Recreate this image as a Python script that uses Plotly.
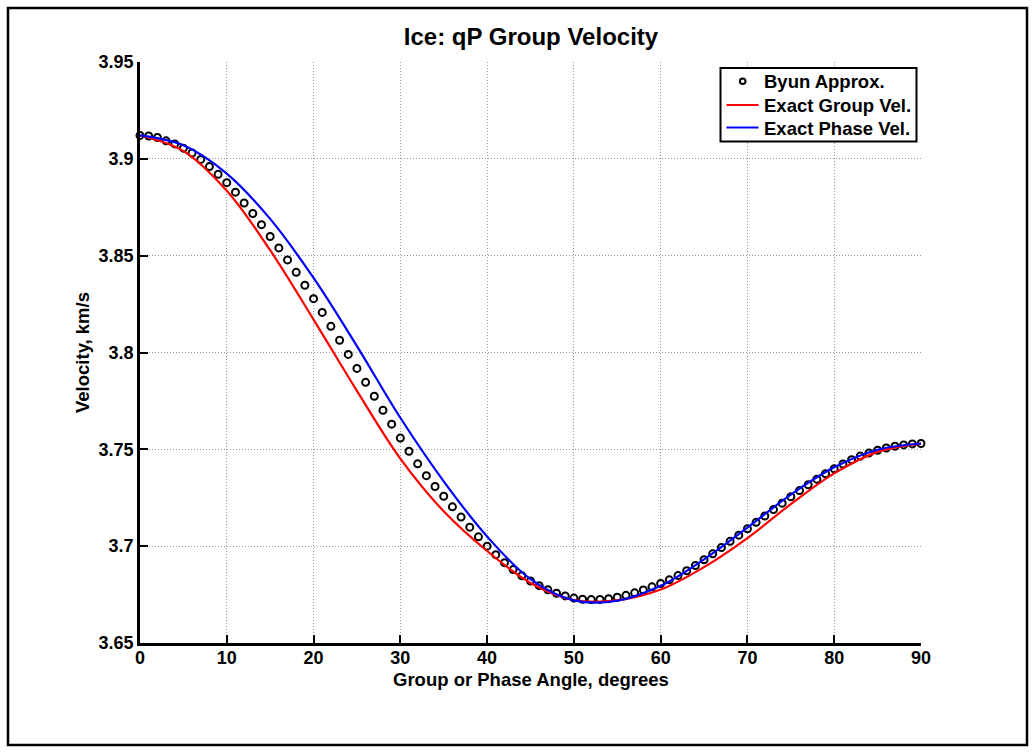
import plotly.graph_objects as go

# ---- data ----
angle_line = [0, 5, 10, 15, 20, 25, 30, 35, 40, 45, 50, 55, 60, 65, 70, 75, 80, 85, 90]
group_vel = [3.9121, 3.9040, 3.8835, 3.8528, 3.8170, 3.7802, 3.7452, 3.7180, 3.6975, 3.6810,
             3.6722, 3.6720, 3.6776, 3.6892, 3.7042, 3.7217, 3.7376, 3.7487, 3.7530]
phase_vel = [3.9121, 3.9070, 3.8924, 3.8690, 3.8385, 3.8033, 3.7663, 3.7335, 3.7050, 3.6830,
             3.6720, 3.6718, 3.6795, 3.6932, 3.7096, 3.7266, 3.7407, 3.7498, 3.7530]

angle_byun = list(range(0, 91))
byun_vel = [3.9121, 3.9118, 3.9110, 3.9093, 3.9077, 3.9055, 3.9030, 3.8997, 3.8960, 3.8920,
            3.8877, 3.8828, 3.8772, 3.8718, 3.8660, 3.8599, 3.8540, 3.8478, 3.8414, 3.8347,
            3.8278, 3.8207, 3.8135, 3.8063, 3.7990, 3.7918, 3.7846, 3.7774, 3.7702, 3.7630,
            3.7558, 3.7490, 3.7425, 3.7364, 3.7308, 3.7258, 3.7203, 3.7150, 3.7098, 3.7048,
            3.7000, 3.6956, 3.6915, 3.6879, 3.6847, 3.6820, 3.6796, 3.6775, 3.6757, 3.6743,
            3.6732, 3.6726, 3.6724, 3.6725, 3.6729, 3.6736, 3.6746, 3.6759, 3.6774, 3.6790,
            3.6807, 3.6826, 3.6848, 3.6873, 3.6900, 3.6930, 3.6961, 3.6993, 3.7025, 3.7057,
            3.7090, 3.7123, 3.7156, 3.7189, 3.7222, 3.7255, 3.7287, 3.7317, 3.7346, 3.7374,
            3.7400, 3.7424, 3.7446, 3.7465, 3.7481, 3.7495, 3.7507, 3.7516, 3.7523, 3.7528,
            3.7530]

x_ticks = [0, 10, 20, 30, 40, 50, 60, 70, 80, 90]
y_ticks = [3.65, 3.70, 3.75, 3.80, 3.85, 3.90, 3.95]
y_tick_text = ["3.65", "3.7", "3.75", "3.8", "3.85", "3.9", "3.95"]

title_text = "Ice: qP Group Velocity"
x_title = "Group or Phase Angle, degrees"
y_title = "Velocity, km/s"
names = ["Byun Approx.", "Exact Group Vel.", "Exact Phase Vel."]
colors = ["black", "#ff0000", "#0000ff"]

FONT = "Liberation Sans, Arial, sans-serif"
TICK_FS = 18
LAB_FS = 18.5

fig = go.Figure()
fig.add_trace(go.Scatter(
    x=angle_byun, y=byun_vel, mode="markers", name=names[0],
    marker=dict(symbol="circle-open", size=7, color=colors[0], line=dict(width=2, color=colors[0])),
    cliponaxis=False,
))
fig.add_trace(go.Scatter(
    x=angle_line, y=group_vel, mode="lines", name=names[1],
    line=dict(color=colors[1], width=2.2, shape="spline", smoothing=1.0),
    cliponaxis=False,
))
fig.add_trace(go.Scatter(
    x=angle_line, y=phase_vel, mode="lines", name=names[2],
    line=dict(color=colors[2], width=2.2, shape="spline", smoothing=1.0),
    cliponaxis=False,
))

W, H = 1035, 752
L, R, T, B = 140, W - 921, 62, H - 643
pw, ph = W - L - R, H - T - B

def px(xp):
    return (xp - L) / pw

def py(yp):
    return (H - B - yp) / ph

shapes = [dict(
    type="rect", xref="paper", yref="paper",
    x0=px(8), x1=px(1027), y0=py(745), y1=py(8),
    line=dict(color="black", width=2.5), fillcolor="rgba(0,0,0,0)", layer="below",
)]

# manual legend (MATLAB-like)
leg_x0, leg_x1, leg_y0, leg_y1 = 720.5, 916.5, 68, 141.5
row_y = [81.3, 105.0, 127.6]
shapes.append(dict(type="rect", xref="paper", yref="paper",
                   x0=px(leg_x0), x1=px(leg_x1), y0=py(leg_y1), y1=py(leg_y0),
                   line=dict(color="black", width=2), fillcolor="white", layer="above"))
shapes.append(dict(type="circle", xref="paper", yref="paper",
                   x0=px(742.7 - 2.8), x1=px(742.7 + 2.8), y0=py(row_y[0] + 2.8), y1=py(row_y[0] - 2.8),
                   line=dict(color=colors[0], width=2), fillcolor="rgba(0,0,0,0)", layer="above"))
for i in (1, 2):
    shapes.append(dict(type="line", xref="paper", yref="paper",
                       x0=px(726.5), x1=px(758.5), y0=py(row_y[i]), y1=py(row_y[i]),
                       line=dict(color=colors[i], width=2), layer="above"))

annotations = []
for i, nm in enumerate(names):
    annotations.append(dict(
        text=nm, xref="paper", yref="paper", x=px(762), y=py(row_y[i] + 0.5),
        xanchor="left", yanchor="middle", showarrow=False,
        font=dict(family=FONT, size=LAB_FS, color="black", weight="bold"),
    ))
annotations.append(dict(
    text=x_title, xref="paper", yref="paper", x=px(530.5), y=py(679),
    xanchor="center", yanchor="middle", showarrow=False,
    font=dict(family=FONT, size=LAB_FS, color="black", weight="bold"),
))
annotations.append(dict(
    text=y_title, xref="paper", yref="paper", x=px(82.5), y=py(352.5),
    xanchor="center", yanchor="middle", showarrow=False, textangle=-90,
    font=dict(family=FONT, size=LAB_FS, color="black", weight="bold"),
))

GRID = dict(showgrid=True, gridcolor="#9a9a9a", gridwidth=1, griddash="1px,2px")

fig.update_layout(
    width=W, height=H,
    margin=dict(l=L, r=R, t=T, b=B, pad=0),
    paper_bgcolor="white", plot_bgcolor="white",
    font=dict(family=FONT, size=TICK_FS, color="black", weight="bold"),
    title=dict(text=title_text, x=px(531), xref="paper", xanchor="center",
               y=1 - 37 / H, yanchor="middle",
               font=dict(family=FONT, size=24, color="black", weight="bold")),
    showlegend=False,
    xaxis=dict(
        range=[0, 90], tickvals=x_ticks, ticktext=[str(v) for v in x_ticks],
        showline=True, linecolor="black", linewidth=2.5, mirror=False,
        ticks="inside", ticklen=8, tickwidth=2, tickcolor="black",
        zeroline=False, ticklabelstandoff=-3,
        tickfont=dict(family=FONT, size=TICK_FS, color="black", weight="bold"),
        **GRID,
    ),
    yaxis=dict(
        range=[3.65, 3.95], tickvals=y_ticks, ticktext=y_tick_text,
        showline=True, linecolor="black", linewidth=2.5, mirror=False,
        ticks="inside", ticklen=8, tickwidth=2, tickcolor="black",
        zeroline=False, ticklabelstandoff=0,
        tickfont=dict(family=FONT, size=TICK_FS, color="black", weight="bold"),
        **GRID,
    ),
    shapes=shapes,
    annotations=annotations,
)

fig.write_html("out.html")
